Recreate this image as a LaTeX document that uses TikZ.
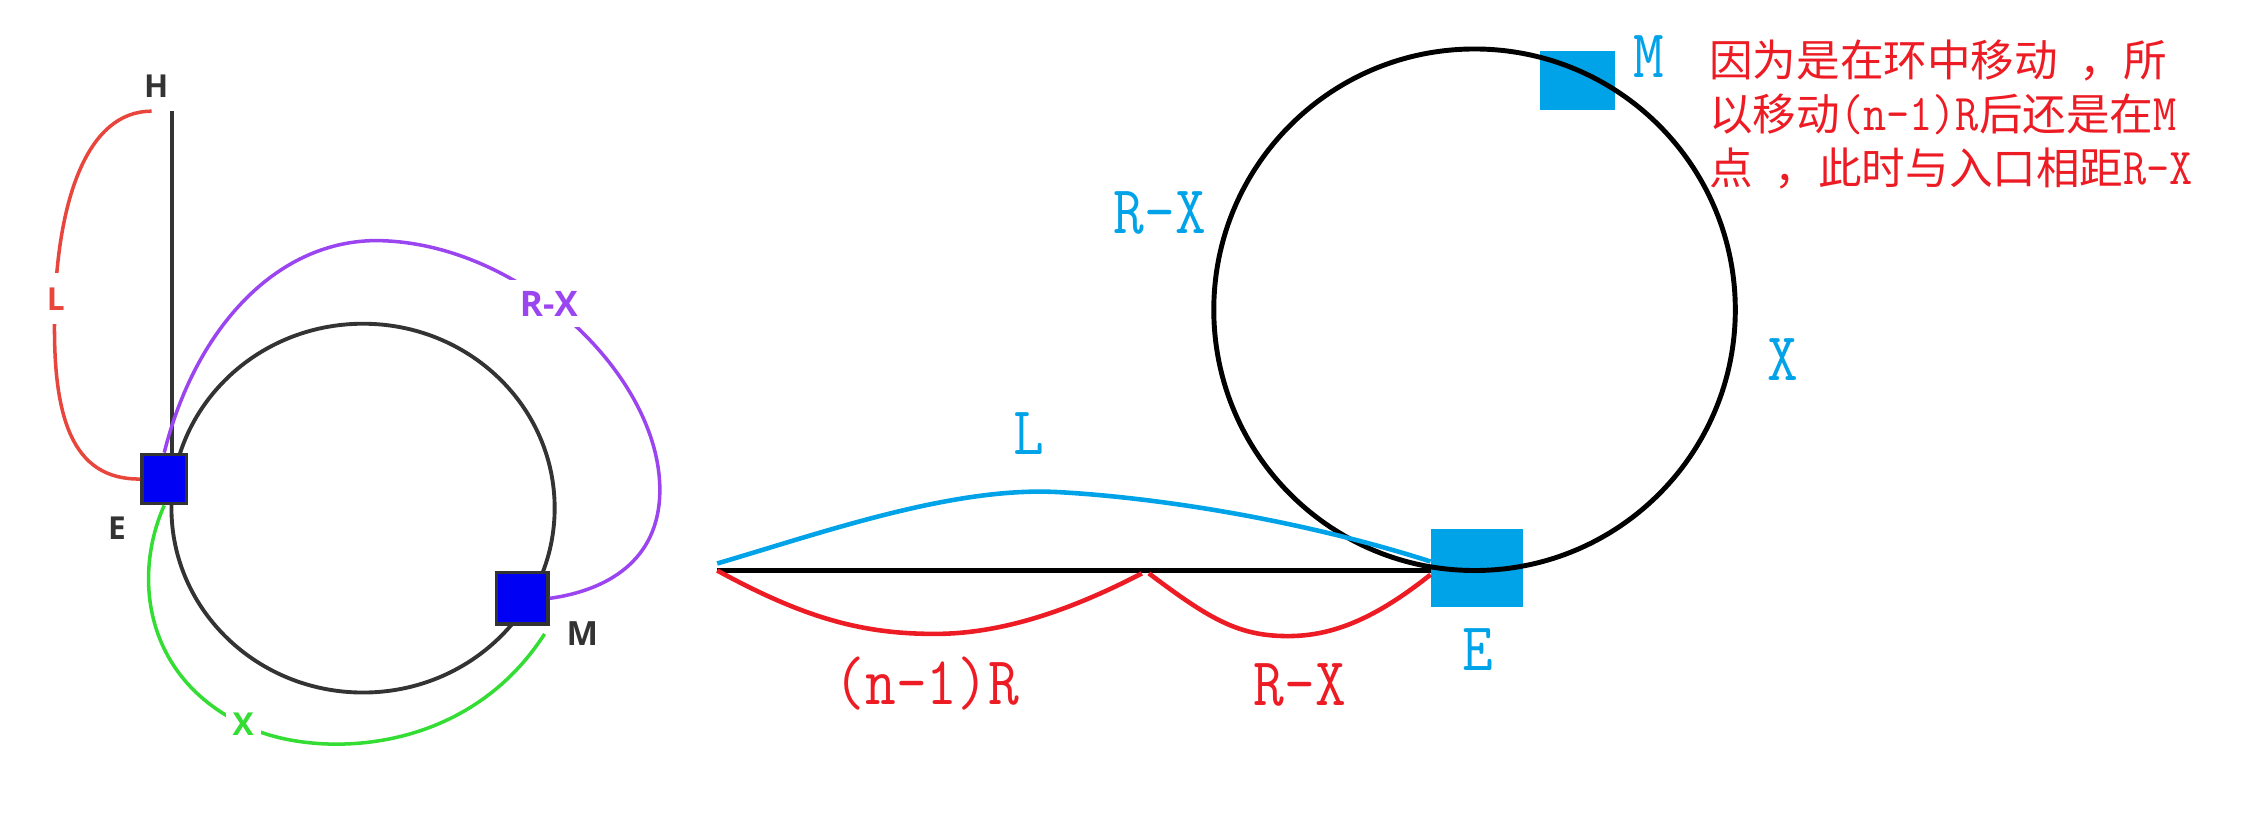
\documentclass[tikz,border=0pt]{standalone}
\usepackage{fontspec}
\usepackage{tikz}
\newfontfamily\cjk{Noto Sans CJK SC}
\newfontfamily\halfw[FakeStretch=0.87]{Latin Modern Mono}
\newfontfamily\uisans{Open Sans}
\newcommand{\hw}[1]{{\halfw\fontsize{14.7}{15.4}\selectfont #1}}
\definecolor{paintRed}{HTML}{ED1C24}
\definecolor{paintBlue}{HTML}{00A2E8}
\definecolor{loopRed}{HTML}{E8453C}
\definecolor{loopPurple}{HTML}{9B45F0}
\definecolor{loopGreen}{HTML}{33DD33}
\definecolor{darkInk}{HTML}{333333}
\definecolor{nodeBlue}{HTML}{0000F5}

\begin{document}
\begin{tikzpicture}[
  x=0.01441cm, y=-0.01441cm,
  sq/.style={draw=darkInk,fill=nodeBlue,line width=1pt,inner sep=0pt},
  psq/.style={fill=paintBlue,inner sep=0pt},
  lbl/.style={font=\uisans\bfseries\fontsize{9}{9}\selectfont,inner sep=1pt},
  plbl/.style={font=\halfw\fontsize{19.5}{19.5}\selectfont,inner sep=0pt},
  ring/.style={draw=darkInk,line width=1.1pt},
  wire/.style={line width=1pt},
  pwire/.style={line width=1.3pt}
]
  \useasboundingbox (0,0) rectangle (1568,571);

  % --- left: list running into a loop ---
  \draw[ring] (252,352.7) ellipse [x radius=133, y radius=128];
  \node[sq,minimum width=12.7pt,minimum height=14pt] (E1) at (114,332.5) {};
  \node[sq,minimum width=14.6pt,minimum height=14.6pt] (M1) at (362.6,415.3) {};
  \coordinate (Htop) at (119.3,77.2);
  \coordinate (Lstart) at (105.3,77.2);
  \coordinate (Xend) at (378,440);

  \draw[wire,darkInk] (Htop) -- (Htop |- E1.north);
  \draw[wire,loopRed] (Lstart) .. controls (60,77) and (40,140) .. (38,215)
    .. controls (36,290) and (50,333) .. (E1.west);
  \draw[wire,loopPurple] (E1.north) .. controls (135,230) and (190,168) .. (260,167)
    .. controls (360,167) and (458,260) .. (458,340)
    .. controls (458,390) and (420,410) .. (M1.east);
  \draw[wire,loopGreen] (E1.south) .. controls (92,400) and (100,470) .. (169,503)
    .. controls (210,525) and (320,530) .. (Xend);

  \node[lbl,text=darkInk] (Hlbl) at (108.4,59.6) {H};
  \node[lbl,text=darkInk] (E1lbl) at (81.2,366.8) {E};
  \node[lbl,text=darkInk,font=\uisans\bfseries\fontsize{9.5}{9.5}\selectfont] (M1lbl) at (404.3,439.9) {M};
  \node[lbl,text=loopRed,fill=white,inner ysep=4pt] (L1lbl) at (38.7,207.4) {L};
  \node[lbl,text=loopPurple,fill=white,inner sep=3pt,font=\uisans\bfseries\fontsize{10}{10}\selectfont] (RX1lbl) at (381,210.7) {R-X};
  \node[lbl,text=loopGreen,fill=white,inner sep=2pt] (X1lbl) at (168.8,503) {X};

  % --- right: unrolled path ---
  \node[psq,minimum width=26.2pt,minimum height=22pt] (E2) at (1025.4,394.3) {};
  \node[psq,minimum width=21.3pt,minimum height=16.8pt] (M2) at (1095,56) {};
  \coordinate (Lbeg) at (497.8,396);
  \coordinate (Rjoin) at (795,398);

  \draw[pwire] (Lbeg) -- (Lbeg -| E2.west);
  \draw[line width=1.4pt] (1023.5,215) circle [radius=181];
  \draw[pwire,paintBlue] ([yshift=2pt]Lbeg) .. controls (570,370) and (660,338) .. (733,341.5)
    .. controls (800,345) and (900,360) .. (E2.172);
  \draw[pwire,paintRed] (Lbeg) .. controls (560,430) and (600,440) .. (649,440)
    .. controls (700,440) and (750,420) .. ([xshift=-1pt]Rjoin);
  \draw[pwire,paintRed] ([xshift=1pt]Rjoin) .. controls (840,430) and (860,442) .. (896,441.5)
    .. controls (930,441) and (960,425) .. (E2.188);

  \node[plbl,text=paintBlue] (L2lbl) at (713.8,300.8) {L};
  \node[plbl,text=paintRed] (nRlbl) at (643.3,474.3) {(n-1)R};
  \node[plbl,text=paintRed] (RX2lbl) at (902.3,475.5) {R-X};
  \node[plbl,text=paintBlue] (E2lbl) at (1025.8,451.2) {E};
  \node[plbl,text=paintBlue] (RX3lbl) at (805,148) {R-X};
  \node[plbl,text=paintBlue] (X2lbl) at (1237.7,249.9) {X};
  \node[plbl,text=paintBlue] (M2lbl) at (1144.3,39.3) {M};

  % note
  \node[anchor=north west,inner sep=0pt,text=paintRed,align=left,
    font=\cjk\fontsize{12.4}{15.4}\selectfont] (note) at (1186,27)
    {因为是在环中移动\hspace{.5em}，所\\以移动\hw{(n-1)R}后还是在\hw{M}\\点\hspace{.5em}，此时与入口相距\hw{R-X}};
\end{tikzpicture}
\end{document}
